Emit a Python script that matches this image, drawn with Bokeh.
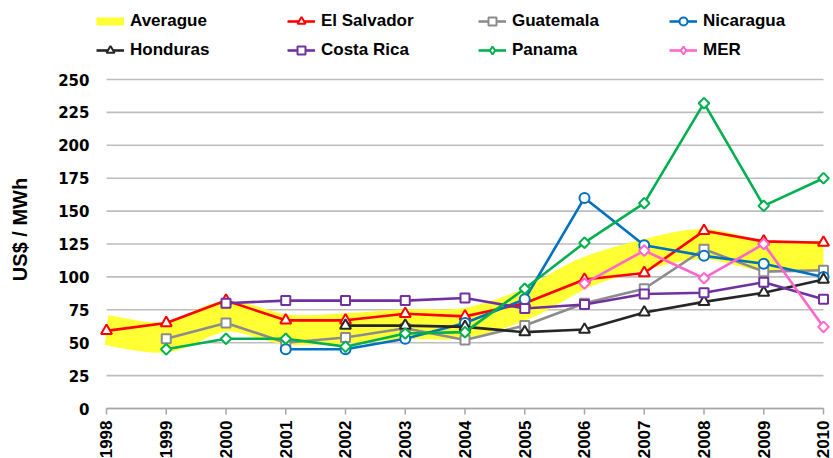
import math
from bokeh.plotting import figure
from bokeh.models import Range1d, FixedTicker, Legend, LegendItem
from bokeh.embed import file_html
from bokeh.resources import INLINE

# ---------------- data ----------------
years = [1998, 1999, 2000, 2001, 2002, 2003, 2004, 2005, 2006, 2007, 2008, 2009, 2010]
year_labels = [str(y) for y in years]
y_ticks = [0, 25, 50, 75, 100, 125, 150, 175, 200, 225, 250]

averague = [59.5, 54, 70, 60, 61, 64, 65, 79, 103, 117, 125, 116, 116]
el_salvador = [59, 65, 82, 67, 67, 72, 70, 80, 98, 103, 135, 127, 126]
guatemala = [None, 53, 65, 50, 54, 61, 52, 63, 80, 91, 121, 104, 105]
nicaragua = [None, None, None, 45, 45, 53, 65, 83, 160, 124, 116, 110, 100]
honduras = [None, None, None, None, 63, 63, 62, 58, 60, 73, 81, 88, 98]
costa_rica = [None, None, 80, 82, 82, 82, 84, 76, 79, 87, 88, 96, 83]
panama = [None, 45, 53, 53, 47, 57, 58, 91, 126, 156, 232, 154, 175]
mer = [None, None, None, None, None, None, None, None, 95, 120, 99, 125, 62]

# name, values, colour, marker
series = [
    ("El Salvador", el_salvador, "#FF0000", "triangle"),
    ("Guatemala", guatemala, "#8C8C8C", "square"),
    ("Nicaragua", nicaragua, "#0070C0", "circle"),
    ("Honduras", honduras, "#262626", "triangle"),
    ("Costa Rica", costa_rica, "#7030A0", "square"),
    ("Panama", panama, "#00B050", "diamond"),
    ("MER", mer, "#FF66CC", "diamond"),
]
MARKER_SIZE = {"triangle": 11, "square": 9, "circle": 10}
YELLOW = "#FFFF33"
GRID = "#BDBDBD"
AXIS = "#A6A6A6"

# ---------------- figure ----------------
PX_PER_UNIT = 329 / 250          # vertical scale (pixels per US$/MWh)
p = figure(width=833, height=458, output_backend="svg", toolbar_location=None,
           x_range=Range1d(1997.7657, 2010.1674),
           y_range=Range1d(-50 / PX_PER_UNIT, 408 / PX_PER_UNIT),
           min_border_left=92, min_border_right=0, min_border_top=0,
           min_border_bottom=0)
p.outline_line_color = None
p.xgrid.grid_line_color = None
p.ygrid.grid_line_color = None
p.xaxis.visible = False

# horizontal grid lines limited to the data span
p.segment(x0=[years[0]] * len(y_ticks), y0=y_ticks,
          x1=[years[-1]] * len(y_ticks), y1=y_ticks,
          line_color=GRID, line_width=1.6)

# smoothed average band (Catmull-Rom -> cubic bezier)
n = len(years)
bx0, by0, bx1, by1, cx0, cy0, cx1, cy1 = [], [], [], [], [], [], [], []
for i in range(n - 1):
    im = i - 1 if i > 0 else i
    ip = i + 2 if i + 2 < n else i + 1
    bx0.append(years[i]); by0.append(averague[i])
    bx1.append(years[i + 1]); by1.append(averague[i + 1])
    cx0.append(years[i] + (years[i + 1] - years[im]) / 6)
    cy0.append(averague[i] + (averague[i + 1] - averague[im]) / 6)
    cx1.append(years[i + 1] - (years[ip] - years[i]) / 6)
    cy1.append(averague[i + 1] - (averague[ip] - averague[i]) / 6)
p.bezier(x0=bx0, y0=by0, x1=bx1, y1=by1, cx0=cx0, cy0=cy0, cx1=cx1, cy1=cy1,
         line_color=YELLOW, line_width=30, line_cap="butt")
# zero-length line used only as the legend key of the band
avg_legend = p.line(x=[years[0], years[0]], y=[averague[0], averague[0]],
                    line_color=YELLOW, line_width=8, line_cap="butt")

# x axis line, ticks and labels
p.segment(x0=[years[0]], y0=[y_ticks[0]], x1=[years[-1]], y1=[y_ticks[0]],
          line_color=AXIS, line_width=1.6)
p.segment(x0=years, y0=[y_ticks[0]] * n, x1=years,
          y1=[y_ticks[0] - 6 / PX_PER_UNIT] * n, line_color=AXIS, line_width=1.5)
p.text(x=years, y=[y_ticks[0]] * n, text=year_labels, angle=math.pi / 2,
       text_align="right", text_baseline="middle", y_offset=12,
       text_font={"value": "Liberation Sans"}, text_font_style="bold",
       text_font_size="17px", text_color="black")

rend = {}
for name, vals, color, marker in series:
    xs = [x for x, v in zip(years, vals) if v is not None]
    ys = [v for v in vals if v is not None]
    ln = p.line(xs, ys, line_color=color, line_width=2.6)
    if marker == "diamond":
        # legend key (diamond), hidden under the rotated squares in the plot
        key = p.scatter(xs, ys, marker="diamond", size=10, line_color=color,
                        fill_color="white", line_width=2)
        p.scatter(xs, ys, marker="square", size=7.5, angle=math.pi / 4,
                  line_color=color, fill_color="white", line_width=2)
        rend[name] = [ln, key]
    else:
        sc = p.scatter(xs, ys, marker=marker, size=MARKER_SIZE[marker],
                       line_color=color, fill_color="white", line_width=2)
        rend[name] = [ln, sc]

# legend: 2 rows x 4 columns (filled column by column)
order = ["Honduras", "El Salvador", "Costa Rica", "Guatemala", "Panama",
         "Nicaragua", "MER"]
items = [LegendItem(label="Averague", renderers=[avg_legend])]
items += [LegendItem(label=nm, renderers=rend[nm]) for nm in order]
legend = Legend(items=items, ncols=4, location=(4, 398),
                glyph_width=28, glyph_height=20, label_height=20,
                label_standoff=6, spacing=9, padding=0, margin=0,
                label_width=148, border_line_color=None,
                background_fill_alpha=0,
                label_text_font="Liberation Sans", label_text_font_style="bold",
                label_text_font_size="17px", label_text_color="black")
p.add_layout(legend)

# y axis
ya = p.yaxis[0]
ya.ticker = FixedTicker(ticks=y_ticks)
ya.axis_line_color = None
ya.major_tick_out = 0
ya.major_tick_in = 0
ya.minor_tick_line_color = None
ya.major_label_text_font = "DejaVu Sans"
ya.major_label_text_font_style = "bold"
ya.major_label_text_font_size = "15px"
ya.major_label_text_color = "black"
ya.major_label_standoff = 3
ya.axis_label = "US$ / MWh"
ya.axis_label_text_font = "Liberation Sans"
ya.axis_label_text_font_style = "bold"
ya.axis_label_text_font_size = "20px"
ya.axis_label_text_color = "black"
ya.axis_label_standoff = 24

open("out.html", "w").write(file_html(p, INLINE))
